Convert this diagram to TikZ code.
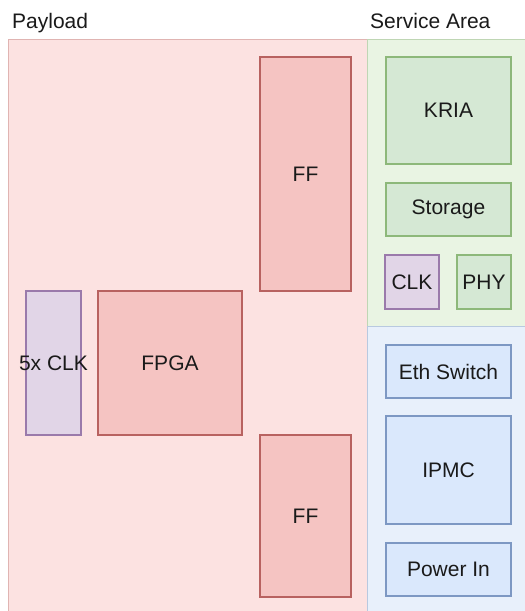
\documentclass[tikz,border=0pt]{standalone}
\usepackage{fontspec}
\setmainfont{Liberation Sans}
\definecolor{regred}{HTML}{FCE2E1}
\definecolor{regredline}{HTML}{E0B4B2}
\definecolor{reggreen}{HTML}{E9F4E3}
\definecolor{reggreenline}{HTML}{BFD6B4}
\definecolor{regblue}{HTML}{E8F0FB}
\definecolor{regblueline}{HTML}{B8C9E0}
\definecolor{redfill}{HTML}{F5C4C2}
\definecolor{redline}{HTML}{B86260}
\definecolor{greenfill}{HTML}{D5E8D4}
\definecolor{greenline}{HTML}{8DB87A}
\definecolor{bluefill}{HTML}{DAE8FC}
\definecolor{blueline}{HTML}{7D98C3}
\definecolor{purplefill}{HTML}{E1D5E7}
\definecolor{purpleline}{HTML}{9A7AAB}
\definecolor{txt}{HTML}{1A1A1A}
\tikzset{
  region/.style={line width=1pt},
  blk/.style={line width=1.4pt, inner sep=0pt, text=txt, font=\fontsize{21}{24}\selectfont},
  redblk/.style={blk, fill=redfill, draw=redline},
  greenblk/.style={blk, fill=greenfill, draw=greenline},
  blueblk/.style={blk, fill=bluefill, draw=blueline},
  purpleblk/.style={blk, fill=purplefill, draw=purpleline},
  title/.style={anchor=base west, inner sep=0pt, text=txt, font=\fontsize{21}{24}\selectfont}
}
\begin{document}
\begin{tikzpicture}[x=1pt, y=-1pt]
  \useasboundingbox[fill=white] (0,0) rectangle (525,611);
  % section areas
  \filldraw[region, fill=regred, draw=regredline] (8,39) rectangle (367,614);
  \filldraw[region, fill=reggreen, draw=reggreenline] (367,39) rectangle (528,326);
  \filldraw[region, fill=regblue, draw=regblueline] (367,326) rectangle (528,614);
  \node[title] (payload) at (12,28) {Payload};
  \node[title] (service) at (370,28) {Service Area};
  % payload blocks
  \node[redblk, minimum width=91pt, minimum height=234pt] (fftop) at (305.5,174) {FF};
  \node[redblk, minimum width=91pt, minimum height=162pt] (ffbot) at (305.5,516) {FF};
  \node[purpleblk, minimum width=55pt, minimum height=144pt] (clk5) at (53.5,363) {};
  \node[txt, inner sep=0pt, font=\fontsize{21}{24}\selectfont] (clk5label) at (clk5.center) {5x CLK};
  \node[redblk, minimum width=144pt, minimum height=144pt] (fpga) at (170,363) {FPGA};
  % service area blocks
  \node[greenblk, minimum width=125pt, minimum height=107pt] (kria) at (448.5,110.5) {KRIA};
  \node[greenblk, minimum width=125pt, minimum height=53pt] (storage) at (448.5,209.5) {Storage};
  \node[purpleblk, minimum width=54pt, minimum height=54pt] (clk) at (412,282) {CLK};
  \node[greenblk, minimum width=54pt, minimum height=54pt] (phy) at (484,282) {PHY};
  \node[blueblk, minimum width=125pt, minimum height=53pt] (eth) at (448.5,371.5) {Eth Switch};
  \node[blueblk, minimum width=125pt, minimum height=108pt] (ipmc) at (448.5,470) {IPMC};
  \node[blueblk, minimum width=125pt, minimum height=53pt] (power) at (448.5,569.5) {Power In};
\end{tikzpicture}
\end{document}
